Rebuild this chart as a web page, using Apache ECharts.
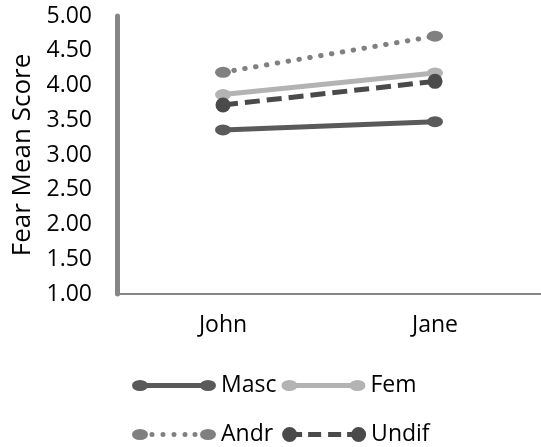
<!DOCTYPE html>
<html>
<head>
<meta charset="utf-8">
<script src="https://cdn.jsdelivr.net/npm/echarts@6/dist/echarts.min.js"></script>
<style>
html,body{margin:0;padding:0;background:#fff;}
#chart{width:541px;height:447px;}
</style>
</head>
<body>
<div id="chart"></div>
<script>
const categories = ['John', 'Jane'];
const masc = [3.36, 3.48];
const fem = [3.87, 4.18];
const andr = [4.19, 4.71];
const undif = [3.72, 4.06];
const yTicks = ['1.00','1.50','2.00','2.50','3.00','3.50','4.00','4.50','5.00'];

const FONT = 'Open Sans';
const ellipseBar = 'path://M0,8 A8,5.5 0 1 1 16,8 A8,5.5 0 1 1 0,8 Z M68,8 A8,5.5 0 1 1 84,8 A8,5.5 0 1 1 68,8 Z M8,5.5 L76,5.5 L76,10.5 L8,10.5 Z';
function dot(cx, r) {
  return 'M' + (cx - r) + ',8 A' + r + ',' + r + ' 0 1 1 ' + (cx + r) + ',8 A' + r + ',' + r + ' 0 1 1 ' + (cx - r) + ',8 Z ';
}
const andrIcon = 'path://M0,8 A8,5.5 0 1 1 16,8 A8,5.5 0 1 1 0,8 Z M68,8 A8,5.5 0 1 1 84,8 A8,5.5 0 1 1 68,8 Z ' +
  dot(20, 2.5) + dot(31, 2.5) + dot(42, 2.5) + dot(53, 2.5) + dot(63, 2.5);
const undifIcon = 'path://M0,8 A7.5,7.5 0 1 1 15,8 A7.5,7.5 0 1 1 0,8 Z M69,8 A7.5,7.5 0 1 1 84,8 A7.5,7.5 0 1 1 69,8 Z ' +
  'M12,5.5 L20,5.5 L20,10.5 L12,10.5 Z M26,5.5 L39,5.5 L39,10.5 L26,10.5 Z M46,5.5 L59,5.5 L59,10.5 L46,10.5 Z M65,5.5 L72,5.5 L72,10.5 L65,10.5 Z';

const C_MASC = '#5a5a5a', C_FEM = '#b3b3b3', C_ANDR = '#808080', C_UNDIF = '#4a4a4a';

const chart = echarts.init(document.getElementById('chart'));
chart.setOption({
  backgroundColor: '#fff',
  animation: false,
  grid: { left: 117, right: -7, top: 16, bottom: 153, containLabel: false },
  xAxis: {
    type: 'category',
    data: categories,
    boundaryGap: true,
    axisLine: { lineStyle: { color: '#868686', width: 2 } },
    axisTick: { show: false },
    axisLabel: { color: '#000', fontFamily: FONT, fontSize: 23, margin: 20 }
  },
  yAxis: {
    type: 'value',
    min: 1, max: 5, interval: 0.5,
    name: 'Fear Mean Score',
    nameLocation: 'middle',
    nameGap: 79,
    nameTextStyle: { color: '#000', fontFamily: FONT, fontSize: 26 },
    axisLine: { show: true, lineStyle: { color: '#868686', width: 5 } },
    axisTick: { show: false },
    splitLine: { show: false },
    axisLabel: {
      color: '#000', fontFamily: FONT, fontSize: 23, margin: 25,
      formatter: v => yTicks[Math.round((v - 1) / 0.5)]
    }
  },
  legend: [
    {
      left: 127, top: 369, itemWidth: 84, itemHeight: 16, itemGap: 5,
      textStyle: { color: '#000', fontFamily: FONT, fontSize: 23 },
      data: [ { name: 'Masc', icon: ellipseBar }, { name: 'Fem', icon: ellipseBar } ]
    },
    {
      left: 127, top: 418, itemWidth: 84, itemHeight: 16, itemGap: 9,
      textStyle: { color: '#000', fontFamily: FONT, fontSize: 23 },
      data: [ { name: 'Andr', icon: andrIcon }, { name: 'Undif', icon: undifIcon } ]
    }
  ],
  series: [
    {
      name: 'Masc', type: 'line', data: masc,
      symbol: 'circle', symbolSize: [16, 11],
      lineStyle: { color: C_MASC, width: 5 },
      itemStyle: { color: C_MASC }
    },
    {
      name: 'Fem', type: 'line', data: fem,
      symbol: 'circle', symbolSize: [16, 11],
      lineStyle: { color: C_FEM, width: 5 },
      itemStyle: { color: C_FEM }
    },
    {
      name: 'Andr', type: 'line', data: andr,
      symbol: 'circle', symbolSize: [16, 11],
      lineStyle: { color: C_ANDR, width: 5, type: [0.5, 10.5], cap: 'round' },
      itemStyle: { color: C_ANDR }
    },
    {
      name: 'Undif', type: 'line', data: undif,
      symbol: 'circle', symbolSize: 15,
      lineStyle: { color: C_UNDIF, width: 5, type: [15, 7] },
      itemStyle: { color: C_UNDIF }
    }
  ]
});
</script>
</body>
</html>
